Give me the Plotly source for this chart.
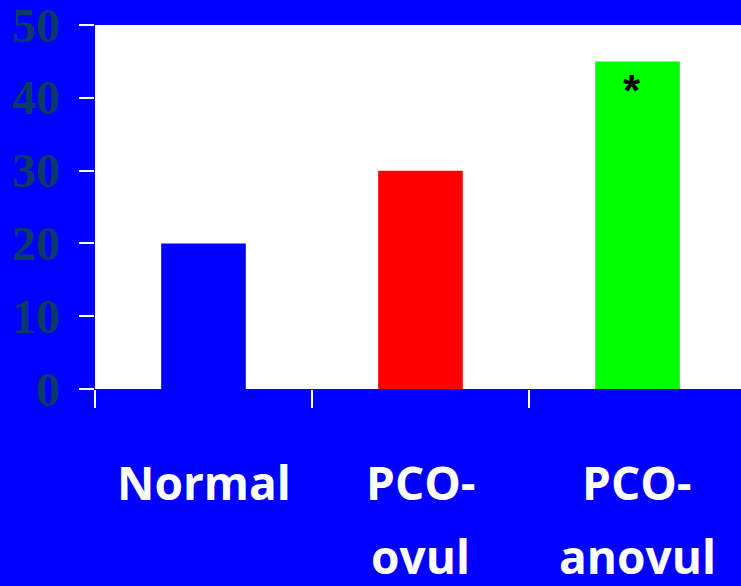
import plotly.graph_objects as go

# values
groups = ["Normal", "PCO-ovul", "PCO-anovul"]
label_top = ["Normal", "PCO-", "PCO-"]
label_bottom = ["", "ovul", "anovul"]
values = [20, 30, 45]
bar_colors = ["#0000FF", "#FF0000", "#00FF00"]
y_ticks = [0, 10, 20, 30, 40, 50]

W, H = 741, 586
PLOT_LEFT, PLOT_TOP, PLOT_BOTTOM = 95, 25, 389


def paper_y(px):
    # pixel row -> paper coordinate (plot area spans 0..1)
    return (PLOT_BOTTOM - px) / (PLOT_BOTTOM - PLOT_TOP)


fig = go.Figure()

fig.add_trace(go.Bar(
    x=groups,
    y=values,
    marker=dict(color=bar_colors, line=dict(width=0)),
    width=0.39,
    showlegend=False,
))

label_font = dict(family="Comic Sans MS, Open Sans", size=46, color="white")
for g, top, bottom in zip(groups, label_top, label_bottom):
    fig.add_annotation(x=g, xref="x", y=paper_y(482), yref="paper",
                       text=f"<b>{top}</b>", showarrow=False,
                       xanchor="center", yanchor="middle", font=label_font)
    if bottom:
        fig.add_annotation(x=g, xref="x", y=paper_y(556), yref="paper",
                           text=f"<b>{bottom}</b>", showarrow=False,
                           xanchor="center", yanchor="middle", font=label_font)

# y tick labels drawn as annotations so the top one (50) is not dropped
tick_font = dict(family="Liberation Serif", size=48, color="#0a3a66")
for t in y_ticks:
    fig.add_annotation(x=0, xref="paper", y=t, yref="y",
                       text=f"<b>{t}</b>", showarrow=False,
                       xanchor="right", yanchor="middle", xshift=-33,
                       font=tick_font)

# significance marker on the PCO-anovul bar
fig.add_annotation(x=groups[2], xref="x", y=values[2], yref="y",
                   text="<b>*</b>", showarrow=False, xshift=-5, yshift=-3,
                   xanchor="center", yanchor="top",
                   font=dict(family="Liberation Sans", size=44, color="black"))

fig.update_layout(
    width=W, height=H,
    margin=dict(l=PLOT_LEFT, r=0, t=PLOT_TOP, b=H - PLOT_BOTTOM),
    paper_bgcolor="#0000FF",
    plot_bgcolor="white",
)

fig.update_xaxes(
    type="category",
    range=[-0.5, 2.477],
    tickson="boundaries",
    ticks="outside", ticklen=18, tickwidth=2, tickcolor="white",
    showticklabels=False,
    showgrid=False, zeroline=False, showline=False,
)

fig.update_yaxes(
    range=[0, 50.01],
    tickvals=y_ticks,
    showticklabels=False,
    ticks="outside", ticklen=15, tickwidth=2, tickcolor="white",
    showgrid=False, zeroline=False, showline=False,
)

fig.write_html("out.html",
               config={"displayModeBar": False},
               post_script="document.body.style.margin='0';"
                           "document.body.style.overflow='hidden';")
